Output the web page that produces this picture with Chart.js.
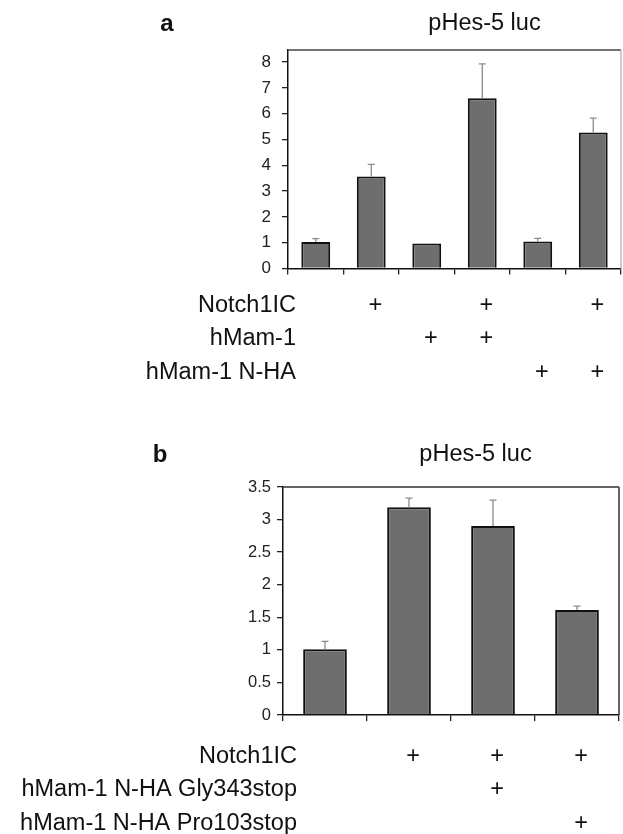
<!DOCTYPE html>
<html>
<head>
<meta charset="utf-8">
<script src="https://cdn.jsdelivr.net/npm/chart.js@4/dist/chart.umd.min.js"></script>
<style>
  html, body { margin: 0; padding: 0; background: #fff; }
  #wrap { position: relative; width: 623px; height: 834px; overflow: hidden; }
  canvas { position: absolute; left: 0; }
  #chartA { top: 0; }
  #chartB { top: 420px; }
</style>
</head>
<body>
<div id="wrap">
  <canvas id="chartA" width="623" height="410"></canvas>
  <canvas id="chartB" width="623" height="414"></canvas>
</div>
<script>
(function () {
    'use strict';

    // panel a
    const lanesA = ['1', '2', '3', '4', '5', '6'];
    const valuesA = [1.03, 3.57, 0.97, 6.6, 1.05, 5.27];
    const errorsA = [0.13, 0.47, 0, 1.33, 0.12, 0.56];
    const ticksA = [0, 1, 2, 3, 4, 5, 6, 7, 8];
    const rowsA = ['Notch1IC', 'hMam-1', 'hMam-1 N-HA'];
    const plusA = [
        [0, 1, 0, 1, 0, 1],
        [0, 0, 1, 1, 0, 0],
        [0, 0, 0, 0, 1, 1]
    ];

    // panel b
    const lanesB = ['1', '2', '3', '4'];
    const valuesB = [1.01, 3.19, 2.9, 1.61];
    const errorsB = [0.12, 0.14, 0.4, 0.06];
    const ticksB = [0, 0.5, 1, 1.5, 2, 2.5, 3, 3.5];
    const rowsB = ['Notch1IC', 'hMam-1 N-HA Gly343stop', 'hMam-1 N-HA Pro103stop'];
    const plusB = [
        [0, 1, 1, 1],
        [0, 0, 1, 0],
        [0, 0, 0, 1]
    ];

    const FONT = '"Liberation Sans", Arial, Helvetica, sans-serif';

    // error bars (upper only) + frame + title + condition table
    const extras = {
        id: 'extras',
        afterDatasetsDraw(chart, args, opts) {
            const ctx = chart.ctx;
            const y = chart.scales.y;
            const meta = chart.getDatasetMeta(0);
            ctx.save();
            ctx.strokeStyle = '#8a8a8a';
            ctx.lineWidth = 1.3;
            meta.data.forEach((bar, i) => {
                const err = opts.errors[i];
                if (!err) return;
                const top = y.getPixelForValue(opts.values[i] + err);
                ctx.beginPath();
                ctx.moveTo(bar.x, bar.y);
                ctx.lineTo(bar.x, top);
                ctx.moveTo(bar.x - 3.5, top);
                ctx.lineTo(bar.x + 3.5, top);
                ctx.stroke();
            });
            ctx.restore();
        },
        afterDraw(chart, args, opts) {
            const ctx = chart.ctx;
            const a = chart.chartArea;
            const x = chart.scales.x;
            ctx.save();
            // top & right frame of the plot area
            ctx.lineWidth = 1.5;
            ctx.strokeStyle = opts.topColor;
            ctx.beginPath();
            ctx.moveTo(a.left, a.top);
            ctx.lineTo(a.right, a.top);
            ctx.stroke();
            ctx.strokeStyle = opts.rightColor;
            ctx.beginPath();
            ctx.moveTo(a.right, a.top);
            ctx.lineTo(a.right, a.bottom);
            ctx.stroke();

            ctx.fillStyle = '#111';
            ctx.textBaseline = 'middle';
            ctx.font = 'bold 24px ' + FONT;
            ctx.textAlign = 'center';
            ctx.fillText(opts.letter, opts.letterX, opts.titleY);
            ctx.font = '23.5px ' + FONT;
            ctx.fillText('pHes-5 luc', opts.titleX, opts.titleY);

            ctx.textBaseline = 'alphabetic';
            opts.rows.forEach((name, r) => {
                const by = a.bottom + opts.rowY[r] + 8.5;
                ctx.textAlign = 'right';
                ctx.fillText(name, opts.labelRight, by);
                ctx.textAlign = 'center';
                opts.plus[r].forEach((on, i) => {
                    if (on) ctx.fillText('+', x.getPixelForValue(i) + 4, by);
                });
            });
            ctx.restore();
        }
    };

    function makeChart(id, cfg) {
        return new Chart(document.getElementById(id), {
            type: 'bar',
            data: {
                labels: cfg.lanes,
                datasets: [{
                    data: cfg.values,
                    backgroundColor: '#6e6e6e',
                    borderColor: '#111',
                    borderWidth: 2,
                    borderSkipped: 'bottom',
                    barPercentage: 0.52,
                    categoryPercentage: 1
                }]
            },
            options: {
                responsive: false,
                animation: false,
                devicePixelRatio: 1,
                layout: { padding: { top: cfg.padTop, right: cfg.padRight, left: 0, bottom: 0 } },
                plugins: {
                    legend: { display: false },
                    tooltip: { enabled: false },
                    extras: cfg.extras
                },
                scales: {
                    x: {
                        ticks: { display: false },
                        grid: { display: true, drawOnChartArea: false, drawTicks: true, tickLength: 6, offset: true, color: '#222', lineWidth: 1.3 },
                        border: { display: true, color: '#111', width: 1.5 },
                        afterFit(s) { s.height = cfg.xHeight; }
                    },
                    y: {
                        min: 0,
                        max: cfg.yMax,
                        afterBuildTicks(s) { s.ticks = cfg.ticks.map(v => ({ value: v })); },
                        ticks: {
                            color: '#222',
                            font: { family: FONT, size: cfg.tickSize },
                            padding: cfg.tickPad,
                            callback: v => String(v)
                        },
                        grid: { display: true, drawOnChartArea: false, drawTicks: true, tickLength: 6, color: '#222', lineWidth: 1.3 },
                        border: { display: true, color: '#111', width: 1.5 },
                        afterFit(s) { s.width = cfg.yWidth; }
                    }
                }
            },
            plugins: [extras]
        });
    }

    makeChart('chartA', {
        lanes: lanesA, values: valuesA, ticks: ticksA, yMax: 8.47,
        padTop: 50, padRight: 2, xHeight: 410 - 268.5, yWidth: 288,
        tickSize: 17, tickPad: 11,
        extras: {
            values: valuesA, errors: errorsA, rows: rowsA, plus: plusA,
            rowY: [34.5, 68, 101.5], labelRight: 296,
            letter: 'a', letterX: 167, titleX: 484.5, titleY: 24,
            topColor: '#444', rightColor: '#bbb'
        }
    });

    makeChart('chartB', {
        lanes: lanesB, values: valuesB, ticks: ticksB, yMax: 3.5,
        padTop: 67, padRight: 4, xHeight: 414 - 295, yWidth: 283,
        tickSize: 16.5, tickPad: 6,
        extras: {
            values: valuesB, errors: errorsB, rows: rowsB, plus: plusB,
            rowY: [39, 72.5, 106.5], labelRight: 297,
            letter: 'b', letterX: 160, titleX: 475.5, titleY: 35,
            topColor: '#333', rightColor: '#333'
        }
    });
})();
</script>
</body>
</html>
